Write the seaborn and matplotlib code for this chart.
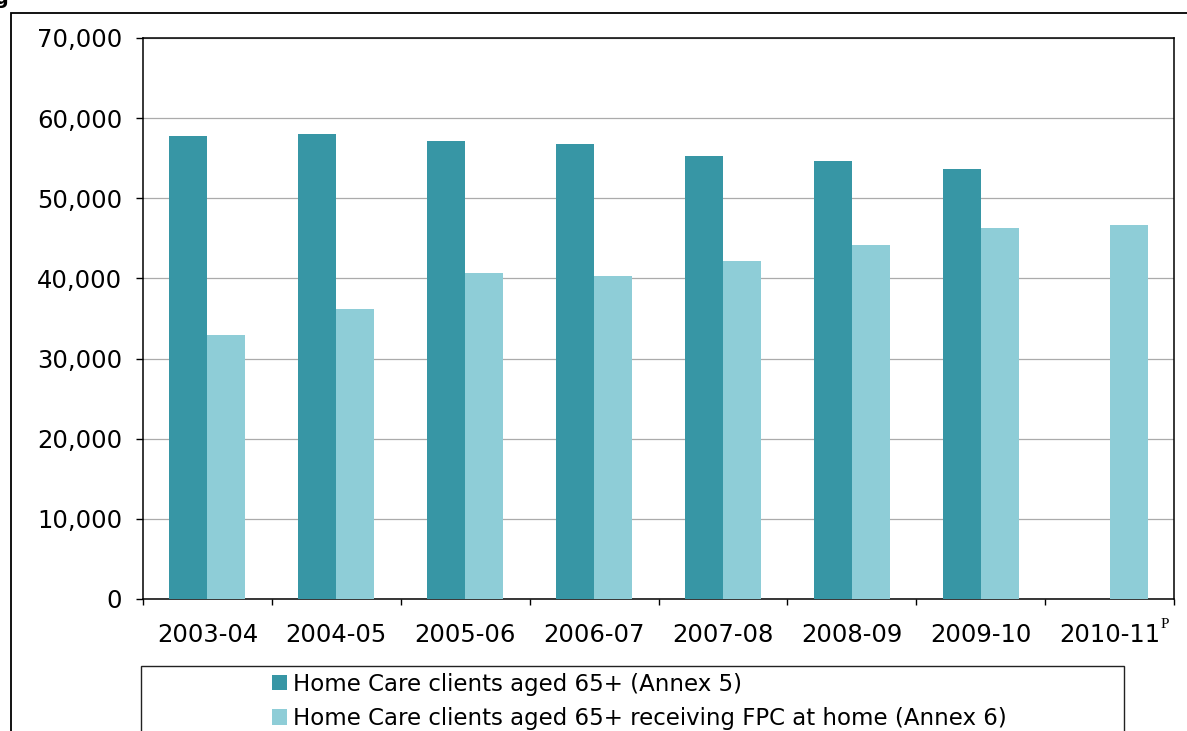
import matplotlib
matplotlib.use("Agg")
import matplotlib.pyplot as plt
import matplotlib.ticker as mticker
import matplotlib.transforms as mtransforms
from matplotlib.patches import Rectangle
import seaborn as sns
import pandas as pd
import numpy as np

# ---- data ----
years = ["2003-04", "2004-05", "2005-06", "2006-07", "2007-08", "2008-09", "2009-10", "2010-11"]
home_care = [57800, 58000, 57200, 56800, 55300, 54700, 53700, np.nan]
home_care_fpc = [33000, 36200, 40700, 40300, 42200, 44200, 46300, 46700]
series_names = ["Home Care clients aged 65+ (Annex 5)",
                "Home Care clients aged 65+ receiving FPC at home (Annex 6)"]
colors = ["#3796A5", "#8ECDD7"]
y_ticks = [0, 10000, 20000, 30000, 40000, 50000, 60000, 70000]

df = pd.DataFrame({
    "year": years * 2,
    "value": home_care + home_care_fpc,
    "series": [series_names[0]] * len(years) + [series_names[1]] * len(years),
})

sns.set_style("white")
plt.rcParams["font.family"] = ["DejaVu Sans"]
plt.rcParams["text.color"] = "black"

W, H = 1187, 731
fig = plt.figure(figsize=(W / 100, H / 100), dpi=100)
ax = fig.add_axes([143 / W, 1 - 599 / H, (1174 - 143) / W, (599 - 38) / H])

sns.barplot(data=df, x="year", y="value", hue="series", order=years,
            hue_order=series_names, palette=colors, saturation=1,
            width=0.59, errorbar=None, ax=ax, legend=True, zorder=3,
            linewidth=0, edgecolor="none")

handles, labels = ax.get_legend_handles_labels()
ax.get_legend().remove()

ax.set_ylim(0, 70000)
ax.set_xlim(-0.5, len(years) - 0.5)
ax.set_yticks(y_ticks)
ax.yaxis.set_major_formatter(mticker.FuncFormatter(lambda v, p: f"{int(v):,}"))
ax.set_xlabel("")
ax.set_ylabel("")

ax.grid(axis="y", color="#ababab", linewidth=0.9, zorder=0)
ax.grid(axis="x", visible=False)
ax.set_axisbelow(True)

for s in ax.spines.values():
    s.set_visible(True)
    s.set_color("black")
    s.set_linewidth(1.1)

ax.tick_params(axis="y", which="major", left=True, direction="out", length=5,
               width=1, color="black", pad=10, labelsize=17.5, labelcolor="black")
ax.tick_params(axis="x", which="major", bottom=True, length=0, pad=17,
               labelsize=17.5, labelcolor="black")
ax.set_xticks(np.arange(-0.5, len(years), 1.0), minor=True)
ax.tick_params(axis="x", which="minor", bottom=True, direction="out", length=4.5,
               width=1, color="black")

# superscript P on last category label
trans = mtransforms.blended_transform_factory(ax.transData, ax.transAxes)
ax.text(7.395, -0.045, "P", transform=trans, fontsize=11,
        family=["Liberation Serif", "DejaVu Serif"], ha="left", va="center",
        color="black", clip_on=False)

# outer chart frame (cropped)
fig.patches.append(Rectangle((11 / W, -0.2), 1.2, 1 - 12.7 / H + 0.2,
                             transform=fig.transFigure, fill=False,
                             edgecolor="black", linewidth=1.3))
# legend box (cropped at bottom)
fig.patches.append(Rectangle((141 / W, -0.05), (1124 - 141) / W, (731 - 666) / H + 0.05,
                             transform=fig.transFigure, fill=False,
                             edgecolor="#222222", linewidth=1.0))

fig.legend(handles, labels, loc="upper left",
           bbox_to_anchor=(267 / W, 1 - 668 / H), frameon=False,
           fontsize=16.5, handlelength=0.68, handleheight=0.68,
           handletextpad=0.25, labelspacing=0.5, borderpad=0.2, borderaxespad=0,
           labelcolor="black")

# partial figure title cut off at top-left
fig.text(9 / W, 1 - 4 / H, "Fig", ha="right", va="baseline", fontsize=14,
         fontweight="bold", color="black")

fig.savefig("out.png", dpi=100)
